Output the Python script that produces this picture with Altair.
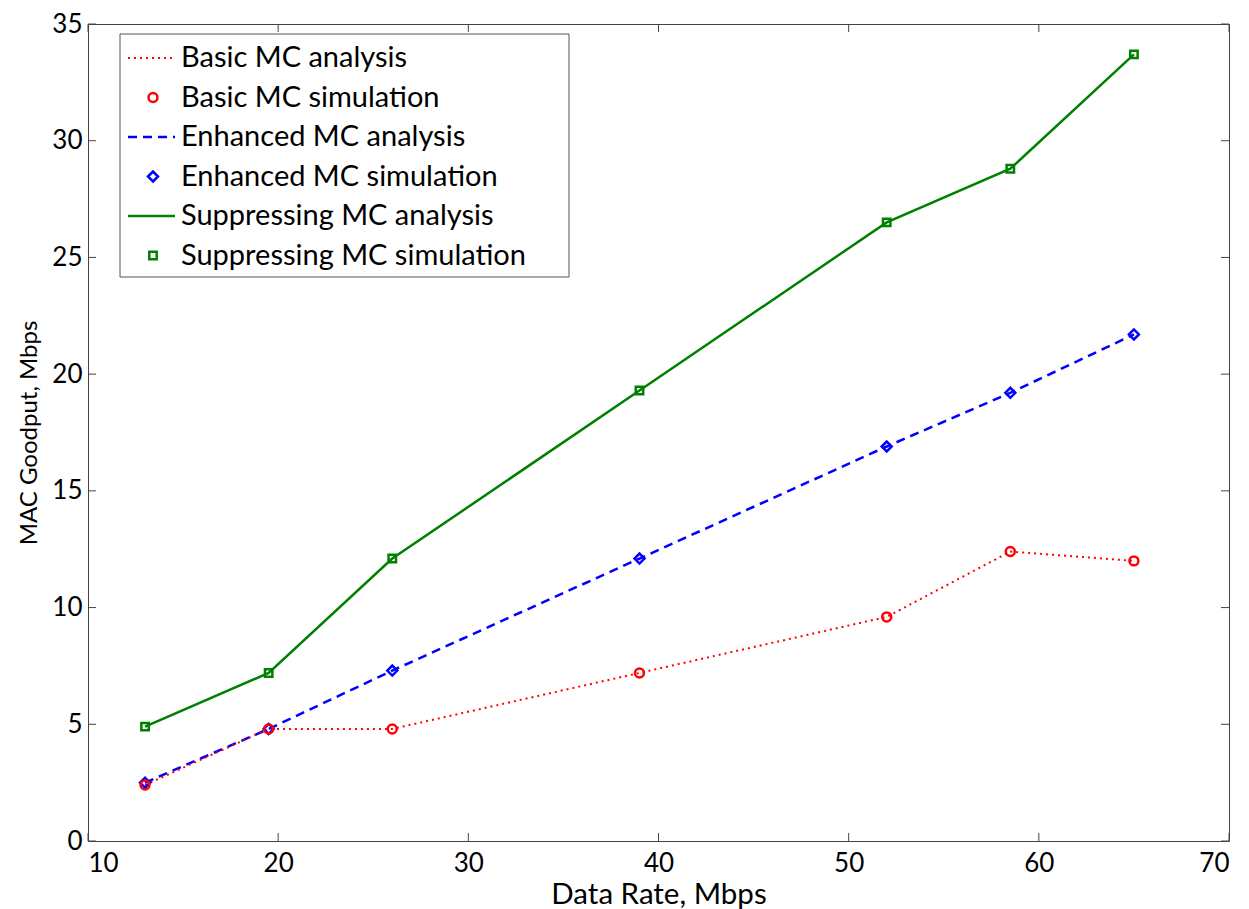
import altair as alt
import pandas as pd

rate = [13, 19.5, 26, 39, 52, 58.5, 65]
basic = [2.4, 4.8, 4.8, 7.2, 9.6, 12.4, 12.0]
enhanced = [2.5, 4.8, 7.3, 12.1, 16.9, 19.2, 21.7]
suppressing = [4.9, 7.2, 12.1, 19.3, 26.5, 28.8, 33.7]

x_ticks = [10, 20, 30, 40, 50, 60, 70]
y_ticks = [0, 5, 10, 15, 20, 25, 30, 35]

legend_labels = [
    "Basic MC analysis",
    "Basic MC simulation",
    "Enhanced MC analysis",
    "Enhanced MC simulation",
    "Suppressing MC analysis",
    "Suppressing MC simulation",
]

W, H = 1141, 817
FONT = "Lato"
RED, BLUE, GREEN = "#ff0000", "#0000ff", "#008000"
AX = "#444444"

xs = alt.Scale(domain=[10, 70], nice=False, zero=False)
ys = alt.Scale(domain=[0, 35], nice=False, zero=False)

def df(vals):
    return pd.DataFrame({"x": rate, "y": vals})

X = alt.X("x:Q", scale=xs, axis=alt.Axis(values=x_ticks, title="Data Rate, Mbps", grid=False,
                                         ticks=False, domain=False, labelPadding=9,
                                         titleFontSize=29.5, titlePadding=4))
Y = alt.Y("y:Q", scale=ys, axis=alt.Axis(values=y_ticks, title="MAC Goodput, Mbps", grid=False,
                                         ticks=False, domain=False, labelPadding=6,
                                         titleFontSize=24, titlePadding=10))

def line(vals, color, dash, width):
    kw = dict(color=color, strokeWidth=width)
    if dash:
        kw["strokeDash"] = dash
    return alt.Chart(df(vals)).mark_line(**kw).encode(x=X, y=Y)

def pts(vals, color, shape, size):
    return alt.Chart(df(vals)).mark_point(shape=shape, size=size, color=color, filled=False,
                                          strokeWidth=2.5, opacity=1).encode(x=X, y=Y)

SQ, DI, CI = 55, 100, 80
layers = [
    line(suppressing, GREEN, None, 2.5),
    line(enhanced, BLUE, [9, 6], 2.5),
    line(basic, RED, [2, 4], 2),
    pts(suppressing, GREEN, "square", SQ),
    pts(enhanced, BLUE, "diamond", DI),
    pts(basic, RED, "circle", CI),
]

# inside tick marks on all four sides (matlab style)
xt = pd.DataFrame({"x": x_ticks})
yt = pd.DataFrame({"y": y_ticks})
TL = 8
tick_layers = [
    alt.Chart(xt).mark_rule(color=AX, strokeWidth=1).encode(x=alt.X("x:Q", scale=xs), y=alt.value(H), y2=alt.value(H - TL)),
    alt.Chart(xt).mark_rule(color=AX, strokeWidth=1).encode(x=alt.X("x:Q", scale=xs), y=alt.value(0), y2=alt.value(TL)),
    alt.Chart(yt).mark_rule(color=AX, strokeWidth=1).encode(y=alt.Y("y:Q", scale=ys), x=alt.value(0), x2=alt.value(TL)),
    alt.Chart(yt).mark_rule(color=AX, strokeWidth=1).encode(y=alt.Y("y:Q", scale=ys), x=alt.value(W - TL), x2=alt.value(W)),
]

# legend box
lx0, ly0, lx1, ly1 = 32, 10, 481, 253
one = pd.DataFrame({"a": [0]})
leg = [
    alt.Chart(one).mark_rect(fill="white", stroke="#555", strokeWidth=1).encode(
        x=alt.value(lx0), x2=alt.value(lx1), y=alt.value(ly0), y2=alt.value(ly1)),
]
row_y = [34, 73.5, 113, 152.5, 192, 231.5]
sym_x0, sym_x1, sym_c, text_x = 40, 87, 65, 93
styles = [
    ("line", RED, [2, 4], 2, None, None),
    ("point", RED, None, None, "circle", CI),
    ("line", BLUE, [9, 6], 2.5, None, None),
    ("point", BLUE, None, None, "diamond", DI),
    ("line", GREEN, None, 2.5, None, None),
    ("point", GREEN, None, None, "square", SQ),
]
for lab, yy, st in zip(legend_labels, row_y, styles):
    kind, col, dash, w, shape, size = st
    if kind == "line":
        kw = dict(color=col, strokeWidth=w)
        if dash:
            kw["strokeDash"] = dash
        leg.append(alt.Chart(one).mark_rule(**kw).encode(
            x=alt.value(sym_x0), x2=alt.value(sym_x1), y=alt.value(yy)))
    else:
        leg.append(alt.Chart(one).mark_point(shape=shape, size=size, color=col, filled=False,
                                             strokeWidth=2.5, opacity=1).encode(
            x=alt.value(sym_c), y=alt.value(yy)))
    leg.append(alt.Chart(pd.DataFrame({"t": [lab]})).mark_text(
        align="left", baseline="middle", font=FONT, fontSize=29, color="black").encode(
        x=alt.value(text_x), y=alt.value(yy), text="t:N"))

chart = alt.layer(*tick_layers, *layers, *leg).properties(
    width=W, height=H,
    autosize=alt.AutoSizeParams(type="none"),
    padding={"left": 80, "top": 16, "right": 12, "bottom": 70},
).configure_view(stroke=AX, strokeWidth=1).configure_axis(
    labelFont=FONT, titleFont=FONT, labelFontSize=26,
    labelColor="black", titleColor="black", titleFontWeight="normal",
)

chart.save("out.html", embed_options={"renderer": "svg", "actions": False})
